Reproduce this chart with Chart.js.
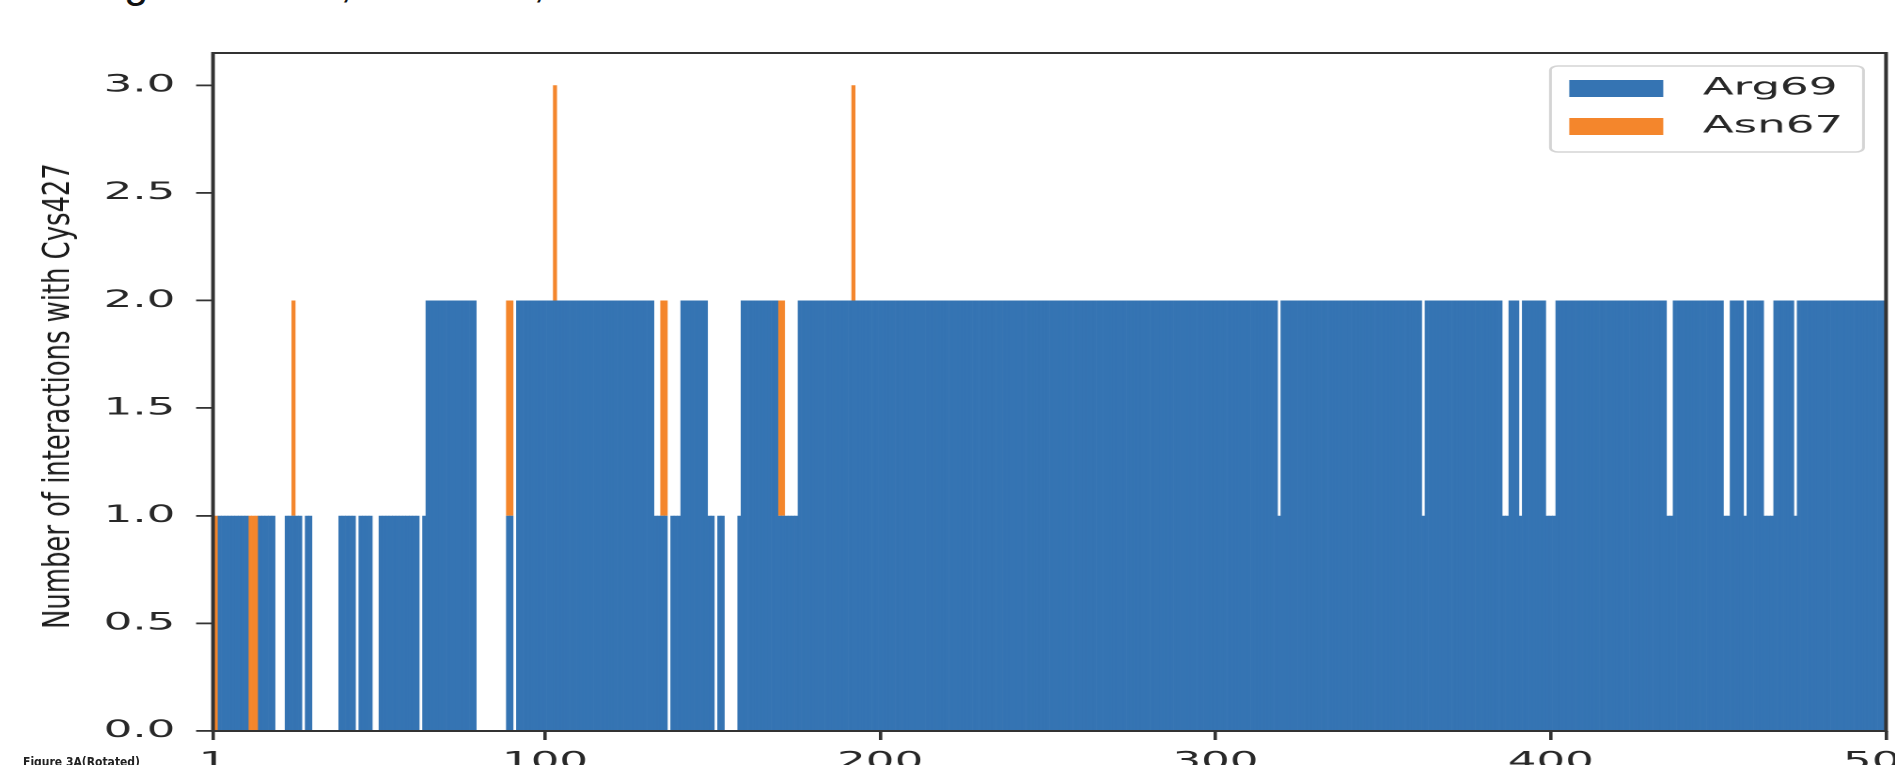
<!DOCTYPE html>
<html>
<head>
<meta charset="utf-8">
<script src="https://cdn.jsdelivr.net/npm/chart.js@4.4.1/dist/chart.umd.min.js"></script>
<style>
html,body{margin:0;padding:0;width:1895px;height:765px;overflow:hidden;background:#fff;}
#wrap{position:absolute;left:0;top:0;width:1008px;height:765px;transform:scaleX(1.88);transform-origin:0 0;}
#ylab{position:absolute;left:56px;top:396px;transform:translate(-50%,-50%) rotate(-90deg) scaleX(0.756);white-space:nowrap;font-family:"Liberation Sans Narrow","DejaVu Sans Condensed",sans-serif;font-size:38px;color:#1a1a1a;}
.cap{position:absolute;top:-40px;font-family:"Liberation Sans",sans-serif;font-size:44px;line-height:44px;color:#111;}
#fig{position:absolute;left:23px;top:756px;font-family:"Liberation Sans Narrow","DejaVu Sans Condensed",sans-serif;font-weight:bold;font-size:12px;line-height:12px;color:#222;white-space:nowrap;}
</style>
</head>
<body>
<span class="cap" style="left:124px">g</span>
<span class="cap" style="left:340px">,</span>
<span class="cap" style="left:533px">,</span>
<div id="wrap"><canvas id="c" width="1008" height="765"></canvas></div>
<div id="ylab"></div>
<div id="fig">Figure 3A(Rotated)</div>
<script>
// ---- data ----
const FRAMES = Array.from({length: 500}, (_, i) => i + 1);
const ARG69 = [
  0,0,1,1,1,1,1,1,1,1,1,0,0,0,1,1,1,1,1,0,0,0,1,1,1,1,1,0,1,1,0,0,0,0,0,0,0,0,1,1,1,1,1,0,1,1,1,1,0,0,
  1,1,1,1,1,1,1,1,1,1,1,1,0,1,2,2,2,2,2,2,2,2,2,2,2,2,2,2,2,0,0,0,0,0,0,0,0,0,1,1,0,2,2,2,2,2,2,2,2,2,
  2,2,2,2,2,2,2,2,2,2,2,2,2,2,2,2,2,2,2,2,2,2,2,2,2,2,2,2,2,2,2,2,1,1,1,1,0,1,1,1,2,2,2,2,2,2,2,2,1,1,
  0,1,1,0,0,0,0,1,2,2,2,2,2,2,2,2,2,2,2,1,1,1,1,1,1,2,2,2,2,2,2,2,2,2,2,2,2,2,2,2,2,2,2,2,2,2,2,2,2,2,
  2,2,2,2,2,2,2,2,2,2,2,2,2,2,2,2,2,2,2,2,2,2,2,2,2,2,2,2,2,2,2,2,2,2,2,2,2,2,2,2,2,2,2,2,2,2,2,2,2,2,
  2,2,2,2,2,2,2,2,2,2,2,2,2,2,2,2,2,2,2,2,2,2,2,2,2,2,2,2,2,2,2,2,2,2,2,2,2,2,2,2,2,2,2,2,2,2,2,2,2,2,
  2,2,2,2,2,2,2,2,2,2,2,2,2,2,2,2,2,2,1,2,2,2,2,2,2,2,2,2,2,2,2,2,2,2,2,2,2,2,2,2,2,2,2,2,2,2,2,2,2,2,
  2,2,2,2,2,2,2,2,2,2,2,1,2,2,2,2,2,2,2,2,2,2,2,2,2,2,2,2,2,2,2,2,2,2,2,1,1,2,2,2,1,2,2,2,2,2,2,2,1,1,
  1,2,2,2,2,2,2,2,2,2,2,2,2,2,2,2,2,2,2,2,2,2,2,2,2,2,2,2,2,2,2,2,2,2,1,1,2,2,2,2,2,2,2,2,2,2,2,2,2,2,
  2,1,1,2,2,2,2,1,2,2,2,2,2,1,1,1,2,2,2,2,2,2,1,2,2,2,2,2,2,2,2,2,2,2,2,2,2,2,2,2,2,2,2,2,2,2,2,2,2,2
];
const ASN67_FRAMES = [1, 2, 12, 13, 14, 25, 89, 90, 103, 135, 136, 170, 171, 192];
const ASN67_VALUES = [1, 1, 1, 1, 1, 1, 1, 1, 1, 1, 1, 1, 1, 1];
const SERIES_LABELS = ['Arg69', 'Asn67'];
const X_TICKS = [1, 100, 200, 300, 400, 500];
const Y_TICKS = [0, 0.5, 1.0, 1.5, 2.0, 2.5, 3.0];
const Y_TITLE = 'Number of interactions with Cys427';

// ---- styles ----
const BLUE = '#3574b3';
const ORANGE = '#f4862c';
const TICK_COLOR = '#282828';
const AXIS_COLOR = '#333333';

document.getElementById('ylab').textContent = Y_TITLE;

const framePlugin = {
  id: 'frameBox',
  afterDatasetsDraw(chart) {
    const {ctx, chartArea: a} = chart;
    ctx.save();
    ctx.strokeStyle = AXIS_COLOR;
    ctx.lineWidth = 2;
    ctx.strokeRect(a.left, a.top, a.right - a.left, a.bottom - a.top);
    ctx.restore();
  }
};

const legendPlugin = {
  id: 'boxLegend',
  afterDraw(chart) {
    const {ctx, chartArea: a} = chart;
    const w = 166.5, h = 86;
    const x0 = a.right - 12 - w, y0 = 66;
    ctx.save();
    ctx.beginPath();
    ctx.roundRect(x0, y0, w, h, 4);
    ctx.fillStyle = 'rgba(255,255,255,0.85)';
    ctx.fill();
    ctx.strokeStyle = '#d4d4d4';
    ctx.lineWidth = 1.5;
    ctx.stroke();
    chart.data.datasets.forEach((ds, i) => {
      const yc = y0 + 22.5 + i * 38;
      ctx.fillStyle = ds.backgroundColor;
      ctx.fillRect(x0 + 10, yc - 8.5, 50, 17);
      ctx.fillStyle = TICK_COLOR;
      ctx.font = '24px "DejaVu Sans"';
      ctx.textBaseline = 'middle';
      ctx.textAlign = 'left';
      ctx.fillText(ds.label, x0 + 81, yc);
    });
    ctx.restore();
  }
};

new Chart(document.getElementById('c'), {
  type: 'bar',
  data: {
    datasets: [
      {
        label: SERIES_LABELS[0],
        data: FRAMES.map((f, i) => ({x: f, y: ARG69[i]})),
        backgroundColor: BLUE,
        borderWidth: 0,
        barPercentage: 1.2,
        categoryPercentage: 1.0,
        clip: 0
      },
      {
        label: SERIES_LABELS[1],
        data: ASN67_FRAMES.map((f, i) => ({x: f, y: ASN67_VALUES[i]})),
        backgroundColor: ORANGE,
        borderWidth: 0,
        barPercentage: 1.2,
        categoryPercentage: 1.0,
        clip: 0
      }
    ]
  },
  options: {
    responsive: false,
    animation: false,
    devicePixelRatio: 2,
    layout: {padding: {top: 53, right: 4.8, left: 0, bottom: 0}},
    plugins: {legend: {display: false}, tooltip: {enabled: false}, title: {display: false}},
    scales: {
      x: {
        type: 'linear',
        stacked: true,
        offset: false,
        min: 1,
        max: 500,
        afterBuildTicks: (axis) => { axis.ticks = X_TICKS.map(v => ({value: v})); },
        afterFit: (scale) => { scale.height = 34; scale.paddingLeft = 0; scale.paddingRight = 0; },
        ticks: {
          autoSkip: false, maxRotation: 0, minRotation: 0,
          padding: 8,
          color: TICK_COLOR,
          font: {family: 'DejaVu Sans', size: 24},
          callback: (v) => String(v)
        },
        grid: {display: true, drawOnChartArea: false, drawTicks: true, tickLength: 9, color: AXIS_COLOR, lineWidth: 1.8, offset: false},
        border: {display: false}
      },
      y: {
        stacked: true,
        min: 0,
        max: 3.15,
        afterBuildTicks: (axis) => { axis.ticks = Y_TICKS.map(v => ({value: v})); },
        afterFit: (scale) => { scale.width = 113.3; scale.paddingTop = 0; scale.paddingBottom = 0; },
        ticks: {
          padding: 11,
          color: TICK_COLOR,
          font: {family: 'DejaVu Sans', size: 24},
          callback: (v) => Number(v).toFixed(1)
        },
        grid: {display: true, drawOnChartArea: false, drawTicks: true, tickLength: 9, color: AXIS_COLOR, lineWidth: 1.8},
        border: {display: false},
        title: {display: false}
      }
    }
  },
  plugins: [framePlugin, legendPlugin]
});
</script>
</body>
</html>
